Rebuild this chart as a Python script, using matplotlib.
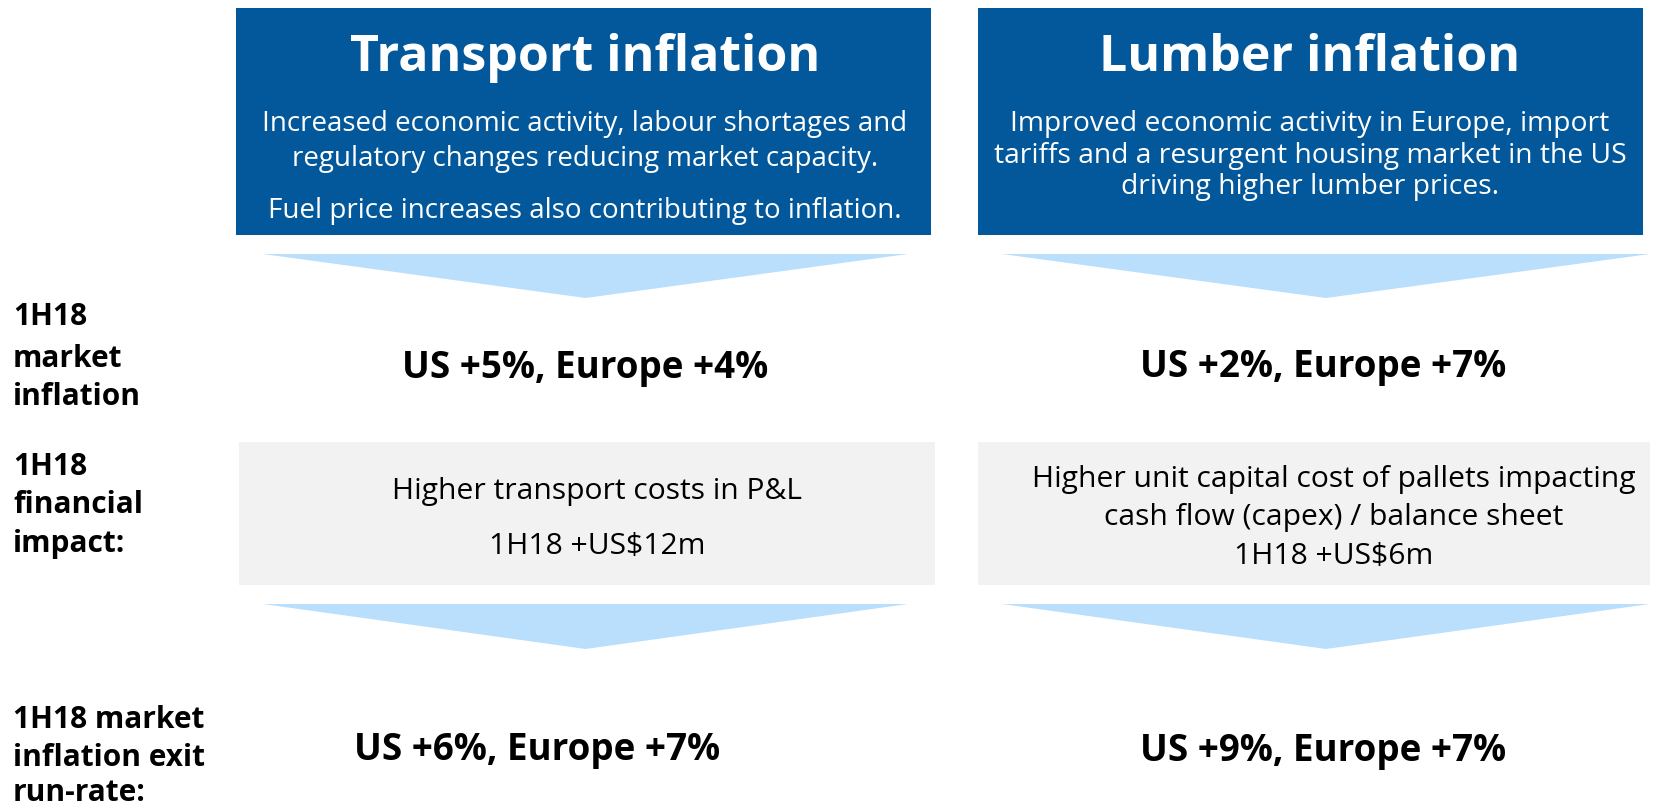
import matplotlib
matplotlib.use("Agg")
import matplotlib.pyplot as plt
from matplotlib.patches import Rectangle, Polygon

# ---- content ----
categories = ["Transport inflation", "Lumber inflation"]
descriptions = [
    ["Increased economic activity, labour shortages and",
     "regulatory changes reducing market capacity.",
     "Fuel price increases also contributing to inflation."],
    ["Improved economic activity in Europe, import",
     "tariffs and a resurgent housing market in the US",
     "driving higher lumber prices."],
]
row_labels = [
    ["1H18", "market", "inflation"],
    ["1H18", "financial", "impact:"],
    ["1H18 market", "inflation exit", "run-rate:"],
]
market_inflation = ["US +5%, Europe +4%", "US +2%, Europe +7%"]
financial_impact = [
    ["Higher transport costs in P&L", "1H18 +US$12m"],
    ["Higher unit capital cost of pallets impacting",
     "cash flow (capex) / balance sheet", "1H18 +US$6m"],
]
exit_run_rate = ["US +6%, Europe +7%", "US +9%, Europe +7%"]

# ---- layout (pixels) ----
W, H = 1659, 806
BLUE = "#02589A"
ARROW = "#B9DFFC"
GREY = "#F2F2F2"
FONT = "Open Sans"

fig = plt.figure(figsize=(W / 100, H / 100), dpi=100)
ax = fig.add_axes([0, 0, 1, 1])
ax.set_xlim(0, W)
ax.set_ylim(H, 0)
ax.axis("off")

blue_boxes = [(236, 8, 931, 235), (978, 8, 1643, 235)]
arrow1 = [(263, 908, 254, 298), (1002, 1650, 254, 298)]
grey_boxes = [(239, 442, 935, 585), (978, 442, 1650, 585)]
arrow2 = [(263, 908, 604, 649), (1002, 1650, 604, 649)]

for (x0, y0, x1, y1) in blue_boxes:
    ax.add_patch(Rectangle((x0, y0), x1 - x0, y1 - y0, color=BLUE, lw=0))
for (x0, y0, x1, y1) in grey_boxes:
    ax.add_patch(Rectangle((x0, y0), x1 - x0, y1 - y0, color=GREY, lw=0))
for arrows in (arrow1, arrow2):
    for (x0, x1, yt, yb) in arrows:
        ax.add_patch(Polygon([(x0, yt), (x1, yt), ((x0 + x1) / 2, yb)],
                             closed=True, color=ARROW, lw=0))

DY = 4  # offset to compensate for font ascender

# titles
title_x = [585, 1310]
for cat, x in zip(categories, title_x):
    ax.text(x, 53 + 5, cat, ha="center", va="center", color="white",
            fontsize=36, fontweight="bold", family=FONT)

desc_y = [[120, 155, 207], [120, 152, 183]]
desc_x = [585, 1310]
desc_size = [20.0, 20.3]
for lines, ys, x, fs in zip(descriptions, desc_y, desc_x, desc_size):
    for line, y in zip(lines, ys):
        ax.text(x, y + DY, line, ha="center", va="center", color="white",
                fontsize=fs, family=FONT)

# row labels
label_y = [[315, 357, 395], [465, 503, 542], [718, 756, 791]]
for lines, ys in zip(row_labels, label_y):
    for line, y in zip(lines, ys):
        ax.text(13, y + 2, line, ha="left", va="center", color="black",
                fontsize=21.5, fontweight="bold", family=FONT)

# market inflation
mi_pos = [(585, 364), (1323, 363)]
for txt, (x, y) in zip(market_inflation, mi_pos):
    ax.text(x, y + DY, txt, ha="center", va="center", color="black",
            fontsize=26.5, fontweight="bold", family=FONT)

# financial impact
fi_x = [597, 1334]
fi_y = [[488, 543], [475, 513, 552]]
for lines, ys, x in zip(financial_impact, fi_y, fi_x):
    for line, y in zip(lines, ys):
        ax.text(x, y + DY, line, ha="center", va="center", color="black",
                fontsize=21.6, family=FONT)

# exit run-rate
er_pos = [(537, 746), (1323, 747)]
for txt, (x, y) in zip(exit_run_rate, er_pos):
    ax.text(x, y + DY, txt, ha="center", va="center", color="black",
            fontsize=26.5, fontweight="bold", family=FONT)

fig.savefig("out.png", dpi=100)
